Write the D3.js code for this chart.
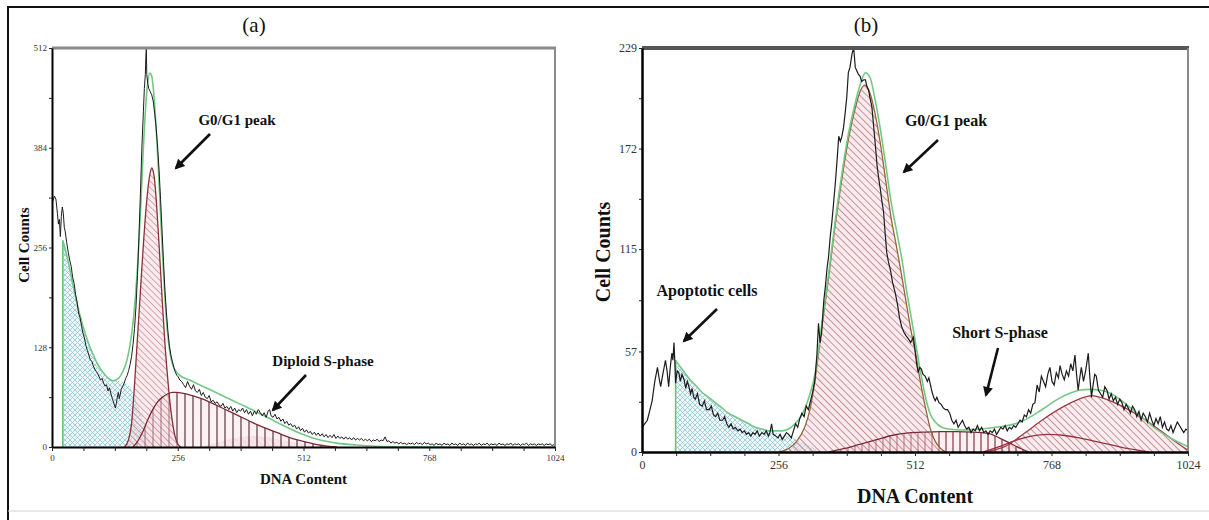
<!DOCTYPE html>
<html><head><meta charset="utf-8">
<script src="https://cdn.jsdelivr.net/npm/d3@7"></script>
<style>
html,body{margin:0;padding:0;background:#fff;}
svg{display:block;font-family:"Liberation Serif","Times New Roman",serif;}
</style>
</head><body>
<svg id="c" width="1209" height="520"></svg>
<script>
// ================= DATA =================
const xTickLabels = [0, 256, 512, 768, 1024];
const yTickLabelsA = [0, 128, 256, 384, 512];
const yTickLabelsB = [0, 57, 115, 172, 229];
const panelTitles = ["(a)", "(b)"];
const xAxisTitle = "DNA Content";
const yAxisTitle = "Cell Counts";
const annotationTextsA = ["G0/G1 peak", "Diploid S-phase"];
const annotationTextsB = ["G0/G1 peak", "Apoptotic cells", "Short S-phase"];

// Panel (a): raw histogram [channel, count]
const rawA = [[2,316],[5,322],[8,318],[11,300],[13,286],[15,292],[17,270],[19,296],[21,308],[23,300],[25,282],[27,276],[30,262],[33,250],[36,240],[39,232],[42,218],[45,210],[48,196],[51,186],[54,172],[57,166],[60,156],[63,146],[66,140],[69,130],[72,124],[75,118],[78,112],[81,110],[84,104],[87,100],[90,97],[93,94],[96,90],[99,86],[102,88],[105,82],[108,78],[111,80],[114,72],[117,76],[120,68],[123,62],[126,56],[129,50],[131,56],[133,64],[135,70],[137,62],[139,68],[141,74],[144,78],[147,82],[150,88],[153,92],[156,98],[159,106],[162,116],[165,132],[168,152],[171,180],[174,220],[177,270],[180,325],[183,385],[186,430],[188,460],[190,478],[191,500],[192,512],[193,478],[195,466],[197,460],[200,456],[203,452],[206,444],[209,428],[212,410],[215,385],[218,355],[221,318],[224,278],[227,238],[230,200],[233,172],[236,148],[239,130],[242,118],[245,110],[248,102],[251,96],[254,92],[257,90],[260,86],[264,84],[268,80],[272,76],[276,84],[280,78],[284,74],[288,80],[292,72],[296,70],[300,74],[304,66],[308,70],[312,64],[316,62],[320,66],[324,58],[328,60],[332,56],[336,58],[340,54],[344,52],[348,56],[352,50],[356,52],[360,48],[364,52],[368,46],[372,50],[376,44],[380,48],[384,46],[388,50],[392,44],[396,48],[400,42],[404,46],[408,40],[412,46],[416,42],[420,48],[424,44],[428,40],[432,44],[436,38],[440,46],[443,48],[446,40],[450,38],[454,42],[458,36],[462,38],[466,33],[470,36],[474,30],[478,33],[482,28],[486,30],[490,26],[494,28],[498,23],[502,26],[506,21],[510,24],[514,19],[518,22],[522,18],[526,20],[530,16],[534,19],[538,15],[542,18],[546,14],[550,17],[554,13],[558,16],[562,12],[566,15],[570,12],[574,16],[578,11],[582,14],[586,11],[590,13],[594,10],[598,13],[602,10],[606,12],[610,9],[614,12],[618,9],[622,11],[626,9],[630,11],[634,8],[638,10],[642,8],[646,10],[650,7],[654,9],[658,8],[662,10],[666,7],[670,9],[674,8],[678,13],[682,7],[686,8],[690,5],[694,7],[698,5],[702,6],[706,4],[710,6],[714,4],[718,5],[722,3],[726,5],[730,4],[734,5],[738,3],[742,6],[746,4],[750,5],[754,3],[758,6],[762,4],[766,5],[770,3],[774,4],[778,2],[782,5],[786,3],[790,4],[794,2],[798,5],[802,3],[806,4],[810,2],[814,5],[818,3],[822,4],[826,2],[830,5],[834,3],[838,4],[842,2],[846,5],[850,3],[854,4],[858,2],[862,4],[866,3],[870,5],[874,2],[878,4],[882,3],[886,5],[890,2],[894,4],[898,3],[902,4],[906,2],[910,5],[914,3],[918,4],[922,2],[926,4],[930,3],[934,5],[938,2],[942,4],[946,3],[950,4],[954,2],[958,4],[962,3],[966,5],[970,2],[974,4],[978,3],[982,4],[986,2],[990,4],[994,3],[998,4],[1002,2],[1006,4],[1010,3],[1014,4],[1018,2],[1022,3]];
// Panel (a): fitted envelope (green)
const fitA = [[22,265],[26,256],[30,246],[35,232],[40,216],[45,201],[50,187],[55,174],[60,162],[65,151],[70,141],[75,132],[80,124],[85,117],[90,110],[95,104],[100,99],[105,95],[110,91],[115,88],[120,86],[125,85],[130,86],[135,88],[140,92],[145,98],[150,106],[155,118],[160,136],[165,160],[170,195],[175,240],[180,300],[185,370],[190,430],[195,468],[199,480],[203,476],[207,455],[211,420],[215,375],[219,325],[223,272],[227,222],[231,180],[235,148],[239,126],[243,112],[248,102],[254,96],[260,92],[280,86],[300,80],[340,68],[380,56],[420,44],[460,31],[500,19],[540,10],[580,5],[620,2.5],[660,1],[720,0.3],[800,0],[1024,0]];
// Panel (a): debris / apoptotic component (blue cross-hatch)
const debrisA = [[22,265],[30,246],[40,216],[50,187],[60,162],[70,141],[80,124],[90,110],[100,99],[110,91],[120,86],[130,85],[140,84],[150,82],[160,76],[170,62],[180,44],[190,24],[200,8],[206,0]];
// Panel (a): G0/G1 component
const g1A = [[148,0],[155,8],[162,30],[168,80],[173,130],[178,180],[185,250],[192,310],[198,345],[203,358],[208,347],[213,310],[219,248],[225,182],[230,132],[235,92],[240,58],[245,33],[250,15],[255,5],[262,0]];
// Panel (a): diploid S-phase component
const sA = [[165,0],[175,8],[185,20],[195,35],[205,48],[215,58],[225,64],[235,68],[245,70],[255,70],[265,69],[280,67],[300,63],[320,58],[340,52],[360,46],[380,40],[400,34],[420,28],[440,23],[460,18],[480,13],[500,9],[520,6],[540,3],[560,1],[580,0]];
// Panel (a): G2 component (light)
const g2A = [[300,0],[330,5],[360,10],[390,13],[410,14],[430,13],[460,10],[490,6],[520,3],[550,0]];

// Panel (b): raw histogram
const rawB = [[0,14],[5,16],[10,18],[15,24],[19,29],[24,40],[29,48],[32,42],[35,37],[39,44],[44,52],[47,46],[50,37],[53,48],[56,56],[58,52],[60,62],[62,48],[63,39],[66,46],[69,45],[72,40],[75,44],[79,41],[82,36],[85,40],[88,37],[91,33],[94,36],[97,31],[100,30],[104,33],[108,27],[113,26],[117,29],[121,24],[126,24],[130,26],[134,21],[138,20],[142,22],[146,18],[151,18],[155,20],[159,16],[163,14],[167,16],[171,13],[175,14],[180,12],[184,13],[188,11],[192,12],[196,10],[200,11],[204,9],[208,11],[212,10],[216,12],[220,9],[225,11],[229,10],[233,12],[237,9],[240,11],[243,16],[246,10],[251,9],[255,8],[259,10],[263,7],[267,9],[271,11],[275,10],[280,8],[284,12],[288,16],[292,14],[296,19],[300,22],[304,20],[308,26],[312,24],[316,29],[320,34],[324,40],[328,55],[331,73],[334,62],[337,68],[341,86],[344,94],[347,104],[350,111],[353,122],[356,130],[359,140],[363,154],[366,166],[369,179],[372,176],[375,179],[378,184],[381,192],[384,201],[387,215],[390,218],[392,222],[394,226],[397,229],[400,218],[403,216],[406,214],[409,213],[412,210],[416,211],[419,211],[422,207],[425,205],[428,200],[431,196],[434,186],[437,176],[441,162],[444,155],[447,149],[450,142],[453,136],[456,124],[459,113],[462,108],[466,103],[470,96],[475,90],[479,84],[483,76],[487,71],[491,68],[495,66],[500,64],[504,62],[509,65],[512,58],[515,50],[518,45],[521,48],[524,47],[527,44],[531,43],[535,40],[538,42],[541,38],[544,34],[547,31],[550,29],[553,31],[557,28],[561,27],[565,25],[569,24],[573,24],[577,22],[581,18],[585,16],[589,18],[593,14],[597,16],[601,18],[605,15],[609,13],[613,14],[617,11],[621,13],[625,12],[629,15],[633,12],[637,14],[641,11],[645,12],[649,10],[653,12],[657,11],[661,13],[665,10],[669,12],[673,14],[677,13],[681,15],[685,12],[689,14],[693,13],[697,15],[701,14],[705,16],[709,18],[713,17],[717,21],[721,20],[725,24],[729,22],[733,27],[737,28],[741,38],[745,34],[749,43],[753,40],[757,37],[761,44],[765,48],[769,40],[773,38],[777,45],[781,42],[784,49],[788,44],[792,41],[796,46],[800,43],[804,50],[808,46],[812,55],[815,44],[818,35],[821,42],[824,48],[828,40],[832,46],[837,56],[840,42],[843,31],[846,38],[849,44],[852,43],[856,35],[860,33],[864,31],[868,37],[872,35],[876,30],[880,33],[884,29],[888,31],[892,27],[896,30],[900,28],[904,24],[908,27],[912,25],[916,22],[920,26],[924,24],[928,20],[932,23],[936,18],[940,22],[944,20],[948,17],[952,22],[956,18],[960,15],[964,19],[968,16],[972,20],[976,14],[980,17],[984,13],[988,12],[992,15],[996,11],[1000,14],[1004,17],[1008,15],[1012,13],[1016,11],[1020,13],[1024,12]];
// Panel (b): fitted envelope (green)
const fitB = [[63,52],[70,49],[80,45],[90,41],[100,38],[112,34],[125,31],[137,28],[150,25],[162,22],[175,20],[187,18],[200,16],[212,14],[225,13],[237,12],[250,12],[262,12],[275,13],[287,16],[300,21],[312,30],[325,45],[337,72],[350,101],[362,130],[375,158],[387,180],[400,198],[410,209],[419,215],[428,212],[437,200],[447,183],[457,163],[467,142],[477,126],[487,110],[497,90],[505,76],[513,62],[522,46],[531,32],[540,22],[550,17],[562,14],[575,13],[600,12.5],[625,12.8],[650,13.5],[675,14.5],[700,16],[720,18.5],[740,22],[760,26],[780,30],[800,33],[820,35],[840,35.5],[860,35],[880,33],[900,29],[920,24],[940,19],[960,14],[980,10],[1000,6.5],[1024,3]];
// Panel (b): apoptotic/debris component
const debrisB = [[63,52],[70,49],[80,45],[90,41],[100,38],[112,34],[125,31],[137,28],[150,25],[162,22],[175,20],[187,18],[200,16],[212,14],[225,13],[237,12],[250,11],[262,10],[275,9],[290,7],[305,5],[320,3],[340,0]];
// Panel (b): G0/G1 component
const g1B = [[258,0],[275,2],[290,6],[305,14],[315,24],[325,42],[337,70],[350,99],[362,128],[375,155],[387,177],[400,195],[410,205],[418,208],[427,204],[437,192],[447,175],[457,154],[467,133],[477,117],[487,100],[497,82],[505,68],[513,56],[522,40],[531,26],[540,14],[550,6],[560,2],[570,0]];
// Panel (b): short S-phase component
const sB = [[350,0],[380,2],[410,4.5],[440,7],[470,9.5],[500,10.8],[530,11.3],[560,11.5],[590,11.5],[620,11.3],[650,10.5],[670,8],[690,5],[710,2],[725,0]];
// Panel (b): second S-phase hump
const s2B = [[640,0],[670,3],[700,6.5],[730,9],[760,10],[790,9.5],[820,8],[850,6],[880,4],[910,2],[950,0]];
// Panel (b): G2 component
const g2B = [[640,0],[680,3],[719,11],[750,18],[792,26],[820,30],[843,32],[870,30],[900,26],[940,19],[973,12],[1000,6],[1024,1]];

// ================= DRAWING =================
const svg = d3.select("#c");
const defs = svg.append("defs");

// outer frame
svg.append("path").attr("d","M8,520 L8,7 L1209,7").attr("fill","none").attr("stroke","#111").attr("stroke-width",2);
svg.append("line").attr("x1",8).attr("x2",1209).attr("y1",511).attr("y2",511).attr("stroke","#d0d0d0").attr("stroke-width",1);

// arrow marker
defs.append("marker").attr("id","arr").attr("viewBox","0 0 10 10").attr("refX",8).attr("refY",5)
  .attr("markerWidth",11).attr("markerHeight",10).attr("markerUnits","userSpaceOnUse").attr("orient","auto")
  .append("path").attr("d","M0,0 L10,5 L0,10 z").attr("fill","#111");

function makePatterns(id, sp) {
  const cross = defs.append("pattern").attr("id","cross"+id).attr("patternUnits","userSpaceOnUse")
    .attr("width",sp.cross).attr("height",sp.cross);
  cross.append("path").attr("d",`M0,0 L${sp.cross},${sp.cross} M${sp.cross},0 L0,${sp.cross}`)
    .attr("stroke","#8fc6d3").attr("stroke-width",0.8);
  const diag = defs.append("pattern").attr("id","diag"+id).attr("patternUnits","userSpaceOnUse")
    .attr("width",sp.diag).attr("height",sp.diag).attr("patternTransform","rotate(-45)");
  diag.append("line").attr("x1",0).attr("y1",0).attr("x2",0).attr("y2",sp.diag)
    .attr("stroke",sp.diagColor).attr("stroke-width",sp.diagW);
  const vert = defs.append("pattern").attr("id","vert"+id).attr("patternUnits","userSpaceOnUse")
    .attr("width",sp.vert).attr("height",10);
  vert.append("line").attr("x1",1).attr("y1",0).attr("x2",1).attr("y2",10)
    .attr("stroke",sp.vertColor).attr("stroke-width",1.1);
  const light = defs.append("pattern").attr("id","light"+id).attr("patternUnits","userSpaceOnUse")
    .attr("width",5).attr("height",5).attr("patternTransform","rotate(-45)");
  light.append("line").attr("x1",0).attr("y1",0).attr("x2",0).attr("y2",5)
    .attr("stroke","#e6b8c2").attr("stroke-width",1);
}

function drawPanel(c) {
  makePatterns(c.id, c.pat);
  const x = d3.scaleLinear().domain([0,1024]).range([c.left,c.right]);
  const y = d3.scaleLinear().domain([0,c.ymax]).range([c.bottom,c.top]);
  defs.append("clipPath").attr("id","clip"+c.id).append("rect")
    .attr("x",c.left).attr("y",c.top-1).attr("width",c.right-c.left).attr("height",c.bottom-c.top+1);
  const g = svg.append("g").attr("clip-path",`url(#clip${c.id})`);
  const area = d3.area().x(d=>x(d[0])).y0(y(0)).y1(d=>y(d[1])).curve(d3.curveMonotoneX);
  const line = d3.line().x(d=>x(d[0])).y(d=>y(d[1])).curve(d3.curveMonotoneX);
  const rawLine = d3.line().x(d=>x(d[0])).y(d=>y(d[1]));

  // debris
  g.append("path").datum(c.debris).attr("d",area).attr("fill","#eef7fa");
  g.append("path").datum(c.debris).attr("d",area).attr("fill",`url(#cross${c.id})`);
  // G2 / light components
  if (c.g2Light) {
    g.append("path").datum(c.g2Light).attr("d",area).attr("fill","#f8e6ea");
    g.append("path").datum(c.g2Light).attr("d",area).attr("fill",`url(#light${c.id})`);
  }
  if (c.g2) {
    g.append("path").datum(c.g2).attr("d",area).attr("fill","rgba(245,215,220,0.45)");
    g.append("path").datum(c.g2).attr("d",area).attr("fill",`url(#diag${c.id})`);
  }
  // S phase (vertical hatch)
  g.append("path").datum(c.s).attr("d",area).attr("fill","rgba(248,228,232,0.5)");
  g.append("path").datum(c.s).attr("d",area).attr("fill",`url(#vert${c.id})`);
  // G1
  g.append("path").datum(c.g1).attr("d",area).attr("fill","rgba(245,218,222,0.5)");
  g.append("path").datum(c.g1).attr("d",area).attr("fill",`url(#diag${c.id})`);

  // outlines
  if (c.s2) g.append("path").datum(c.s2).attr("d",line).attr("fill","none").attr("stroke","#9a3040").attr("stroke-width",1.3);
  if (c.g2) g.append("path").datum(c.g2).attr("d",line).attr("fill","none").attr("stroke","#a03a45").attr("stroke-width",1.3);
  g.append("path").datum(c.s).attr("d",line).attr("fill","none").attr("stroke","#7a2a35").attr("stroke-width",1.3);
  g.append("path").datum(c.g1).attr("d",line).attr("fill","none").attr("stroke",c.g1Stroke).attr("stroke-width",1.3);

  // fitted envelope (green)
  const f0 = c.fit[0];
  g.append("line").attr("x1",x(f0[0])).attr("x2",x(f0[0])).attr("y1",y(0)).attr("y2",y(f0[1]))
    .attr("stroke","#6cc47c").attr("stroke-width",1.6);
  g.append("path").datum(c.fit).attr("d",line).attr("fill","none").attr("stroke","#74c884").attr("stroke-width",1.6);

  // raw histogram
  g.append("path").datum(c.raw).attr("d",rawLine).attr("fill","none").attr("stroke","#1c1c1c").attr("stroke-width",c.rawW);

  // frame top/right
  svg.append("line").attr("x1",c.left).attr("x2",c.right+1).attr("y1",c.top).attr("y2",c.top)
    .attr("stroke",c.frameColor).attr("stroke-width",c.frameTop);
  svg.append("line").attr("x1",c.right).attr("x2",c.right).attr("y1",c.top).attr("y2",c.bottom)
    .attr("stroke","#8a8a8a").attr("stroke-width",2);

  // axes
  const xMinor = d3.range(0,1025,64);
  const xa = d3.axisBottom(x).tickValues(xMinor).tickSizeInner(4).tickSizeOuter(0).tickPadding(4)
    .tickFormat(d => xTickLabels.includes(d) ? String(d) : "");
  const gx = svg.append("g").attr("transform",`translate(0,${c.bottom})`).call(xa);
  gx.select(".domain").attr("stroke","#000").attr("stroke-width",c.axisW);
  gx.selectAll(".tick line").attr("stroke","#222").attr("stroke-width",1);
  gx.selectAll(".tick text").attr("font-family","Liberation Serif, serif").attr("font-size",c.tickFont).attr("fill","#333");

  const yl = c.yLabels;
  const yVals = [];
  for (let i=0;i<yl.length;i++){ yVals.push(yl[i]); if(i<yl.length-1) yVals.push((yl[i]+yl[i+1])/2); }
  const ya = d3.axisLeft(y).tickValues(yVals).tickSizeInner(3).tickSizeOuter(0).tickPadding(2)
    .tickFormat(d => yl.includes(d) ? String(d) : "");
  const gy = svg.append("g").attr("transform",`translate(${c.left},0)`).call(ya);
  gy.select(".domain").attr("stroke","#000").attr("stroke-width",c.axisW);
  gy.selectAll(".tick line").attr("stroke","#222").attr("stroke-width",1);
  gy.selectAll(".tick text").attr("font-family","Liberation Serif, serif").attr("font-size",c.tickFont).attr("fill","#333");

  // titles
  svg.append("text").attr("x",c.titleX).attr("y",32).attr("text-anchor","middle")
    .attr("font-size",21).attr("fill","#111").text(c.title);
  svg.append("text").attr("x",(c.left+c.right)/2).attr("y",c.xLabelY).attr("text-anchor","middle")
    .attr("font-size",c.labelFont).attr("font-weight","bold").attr("fill","#111").text(xAxisTitle);
  svg.append("text").attr("transform",`translate(${c.yLabelX},${c.yLabelY}) rotate(-90)`).attr("text-anchor","middle")
    .attr("font-size",c.labelFont).attr("font-weight","bold").attr("fill","#111").text(yAxisTitle);

  // annotations
  c.notes.forEach(n => {
    svg.append("text").attr("x",n.tx).attr("y",n.ty).attr("text-anchor","middle")
      .attr("font-size",c.noteFont).attr("font-weight","bold").attr("fill","#111").text(n.text);
    svg.append("line").attr("x1",n.a[0]).attr("y1",n.a[1]).attr("x2",n.a[2]).attr("y2",n.a[3])
      .attr("stroke","#111").attr("stroke-width",2.6).attr("marker-end","url(#arr)");
  });
}

drawPanel({
  id:"A", left:52, right:555, top:48, bottom:447, ymax:512,
  raw:rawA, fit:fitA, debris:debrisA, g1:g1A, s:sA, g2Light:g2A,
  g1Stroke:"#8a3038", yLabels:yTickLabelsA, tickFont:9, axisW:2, rawW:1,
  frameColor:"#8a8a8a", frameTop:3,
  pat:{cross:5, diag:4.5, diagColor:"#a8505c", diagW:0.9, vert:8, vertColor:"#4a2630"},
  title:panelTitles[0], titleX:254, xLabelY:484, yLabelX:29, yLabelY:245, labelFont:15, noteFont:15,
  notes:[
    {text:annotationTextsA[0], tx:237, ty:125, a:[210,134,176,168]},
    {text:annotationTextsA[1], tx:323, ty:366, a:[306,375,273,410]}
  ]
});
drawPanel({
  id:"B", left:642, right:1188, top:48, bottom:452, ymax:229,
  raw:rawB, fit:fitB, debris:debrisB, g1:g1B, s:sB, g2:g2B, s2:s2B,
  g1Stroke:"#94643a", yLabels:yTickLabelsB, tickFont:12, axisW:2.5, rawW:1.2,
  frameColor:"#555", frameTop:4,
  pat:{cross:5, diag:5, diagColor:"#9e4450", diagW:1.1, vert:7, vertColor:"#7a2434"},
  title:panelTitles[1], titleX:866, xLabelY:503, yLabelX:610, yLabelY:252, labelFont:20, noteFont:16,
  notes:[
    {text:annotationTextsB[0], tx:946, ty:126, a:[938,140,904,172]},
    {text:annotationTextsB[1], tx:707, ty:296, a:[717,309,684,341]},
    {text:annotationTextsB[2], tx:1000, ty:338, a:[998,348,986,395]}
  ]
});
</script>
</body></html>
